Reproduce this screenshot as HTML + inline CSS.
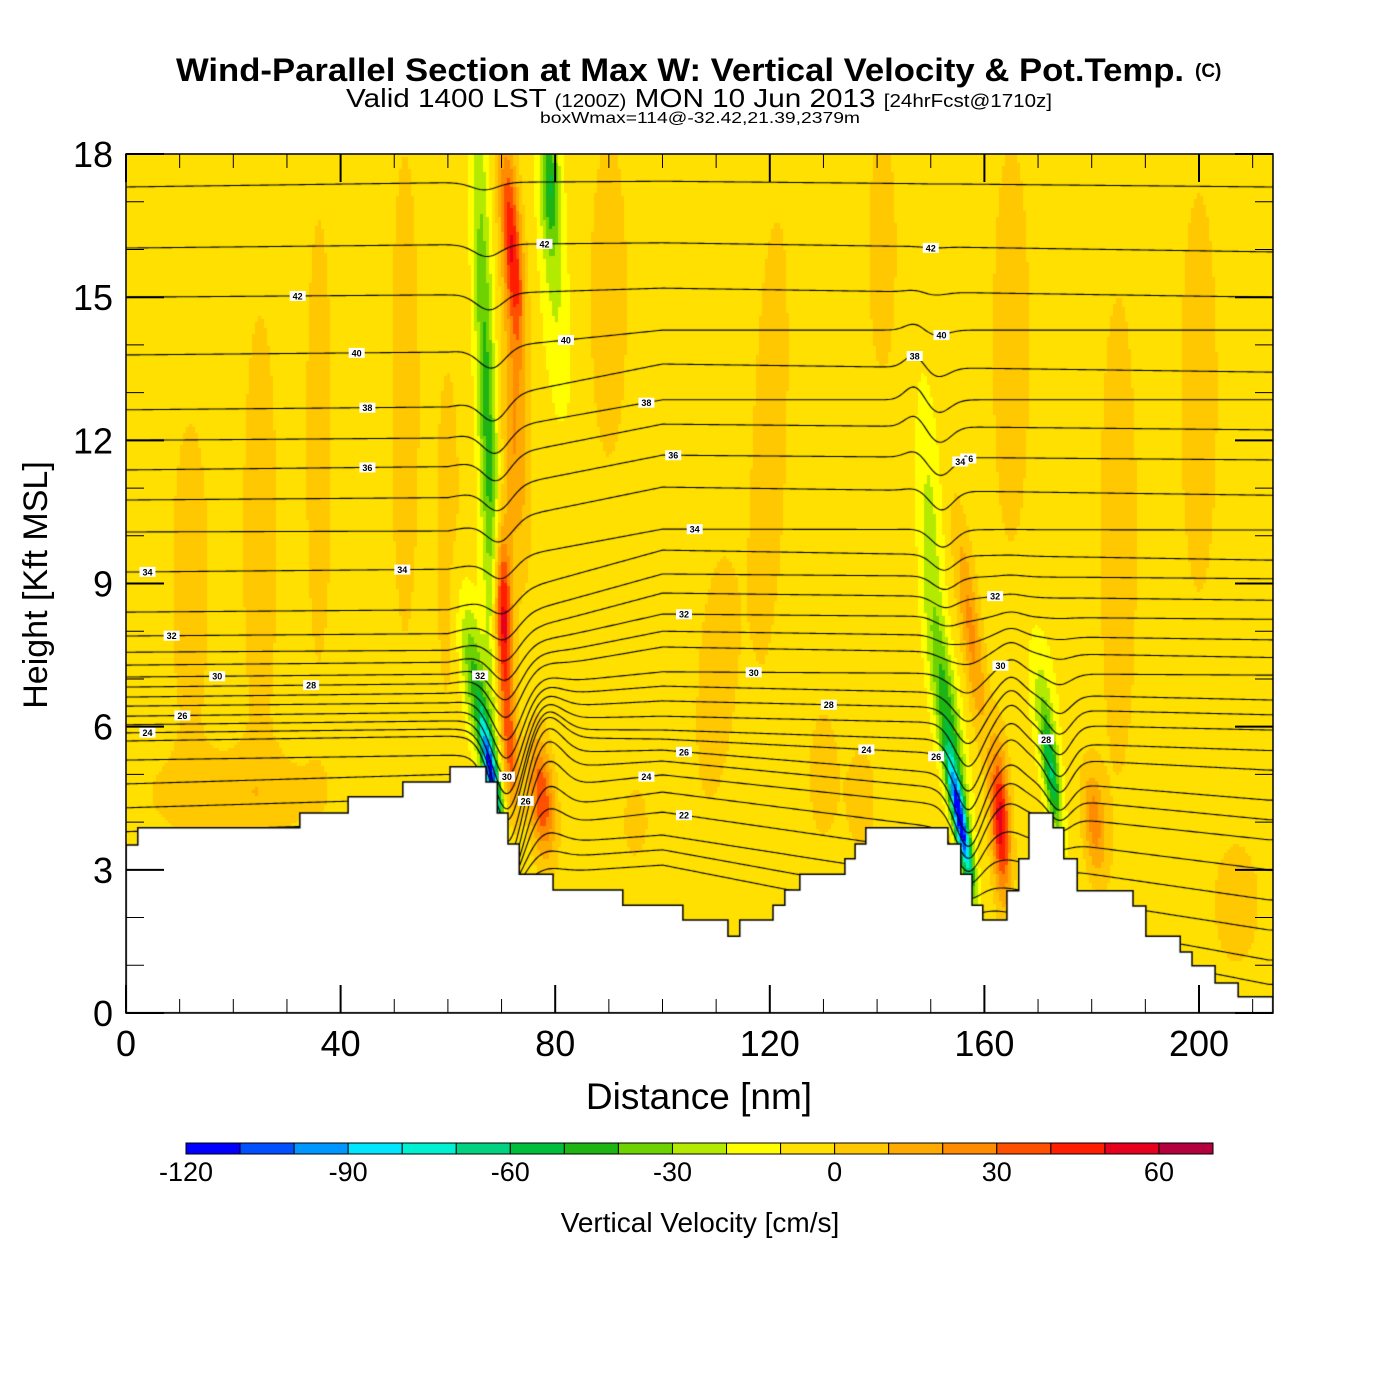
<!DOCTYPE html>
<html><head><meta charset="utf-8">
<style>
html,body{margin:0;padding:0;background:#fff;}
#wrap{position:relative;width:1400px;height:1400px;overflow:hidden;font-family:"Liberation Sans",sans-serif;}
#field{position:absolute;left:126px;top:154px;}
#ov{position:absolute;left:0;top:0;}
</style></head>
<body>
<div id="wrap">
<canvas id="field" width="1147" height="859"></canvas>
<svg id="ov" width="1400" height="1400">
  <g>
    <text x="176" y="81" font-size="32" font-weight="bold" textLength="1008" lengthAdjust="spacingAndGlyphs">Wind-Parallel Section at Max W: Vertical Velocity &amp; Pot.Temp.</text>
    <text x="1195" y="77" font-size="19" font-weight="bold">(C)</text>
    <text x="346" y="107" font-size="26" textLength="706" lengthAdjust="spacingAndGlyphs"><tspan>Valid 1400 LST </tspan><tspan font-size="18">(1200Z)</tspan><tspan> MON 10 Jun 2013 </tspan><tspan font-size="18">[24hrFcst@1710z]</tspan></text>
    <text x="700" y="123" font-size="16" text-anchor="middle" textLength="320" lengthAdjust="spacingAndGlyphs">boxWmax=114@-32.42,21.39,2379m</text>
  </g>
  <g id="labels"></g>
  <rect x="126" y="154" width="1147" height="859" fill="none" stroke="#000" stroke-width="1.5"/>
  <g id="ticks"></g>
  <g id="ticklabels" font-size="36"></g>
  <text x="699" y="1109" font-size="37" text-anchor="middle">Distance [nm]</text>
  <text transform="translate(47,585) rotate(-90)" font-size="34" text-anchor="middle">Height [Kft MSL]</text>
  <g id="cbar"></g>
  <text x="700" y="1232" font-size="28" text-anchor="middle">Vertical Velocity [cm/s]</text>
</svg>
</div>
<script>
// ---- data ----
const binColors = ["#0000ff","#0050ff","#0096ff","#00e6ff","#00f0d2","#00d282","#00be3c","#1eb414","#6ed200","#b4ea00","#ffff00","#ffe000","#ffc800","#ffaa00","#ff8c00","#ff5000","#ff1e00","#e6001e","#b4003c"];
const binMin = -120, binStep = 10;
const cbarTicks = [-120,-90,-60,-30,0,30,60];
const xTicks = [0,40,80,120,160,200];
const yTicks = [0,3,6,9,12,15,18];
// terrain (step start distance nm, height kft)
const terrainX = [0,2.2,32.4,41.4,51.6,60.4,67.1,69.2,71.2,73.3,79.6,92.6,103.8,112.2,114.4,120.6,122.8,125.6,134.0,135.9,137.9,153.2,155.6,157.7,159.7,164.2,166.4,168.3,172.8,174.8,177.3,187.7,190.1,196.5,198.7,203.0,207.3];
const terrainH = [3.52,3.88,4.19,4.53,4.84,5.16,4.84,4.19,3.54,2.91,2.58,2.26,1.95,1.61,1.95,2.26,2.58,2.91,3.23,3.54,3.88,3.54,2.91,2.26,1.95,2.56,3.23,4.19,3.88,3.23,2.56,2.24,1.61,1.28,0.99,0.63,0.34];
// vertical-velocity features (cm/s)
const plumeX    = [70.2,71.5,72,72.5,67.5,68,65,77.5,79,80,155.5,153.5,150,163,157.5,172.5,171,180.5,207, 12,36,52,90,110,141,165,200,20,137, 25,60,120,130,185,95];
const plumeH    = [8.2,5.5,16,12,12,5.0,7,4.5,17.5,15,4.0,6,10,4.0,8,5,6.5,4.0,2.3, 9,12,13,15,7,16,14,13,4.6,4.5, 10,10,12,5,10,4];
const plumeTilt = [-0.15,-0.5,-0.6,-0.4,-0.3,-1.3,-1.0,-0.6,-0.3,-0.5,-1.5,-1.2,-0.4,-0.4,-1.0,-1.0,-0.8,-0.6,0, 0,0,0,0,0.5,0,0,0,0,0, 0,0,0.3,0,0,0];
const plumeWx   = [1.7,1.5,1.8,2.2,1.8,1.2,2.4,2.2,1.8,2.6,1.2,2.2,2.2,1.7,1.8,1.4,2.6,2.0,4, 4,3,3,4,4,3,4,4,16,3, 4,3,4,3,4,3];
const plumeWh   = [1.9,1.3,2.2,2.5,7,1.2,1.7,1.2,1.5,2.5,1.3,2.2,3,1.5,2.2,1.3,1.6,1.1,1.2, 4,6,6,4,3,3,5,5,0.9,1.2, 6,5,6,1.5,6,1];
const plumeAmp  = [70,40,55,25,-40,-100,-35,45,-40,-15,-105,-40,-18,60,28,-50,-15,30,14, 10,9,10,10,10,10,10,10,12,10, 9,8,9,10,10,8];
const wBackground = -5;
// potential temperature isentropes: heights (kft) at anchor distances
const anchorX = [0,60,100,213];
const levLeft  = [2.6,2.9,3.2,3.5,3.8,4.3,4.8,5.3,5.7,5.87,6.04,6.22,6.43,6.62,6.83,7.04,7.29,7.56,7.9,8.4,9.24,10.08,10.75,11.38,12.0,12.64,13.79,15.0,16.03,17.31];
const lev60    = [2.8,3.1,3.4,3.7,4.0,4.5,5.0,5.4,5.8,5.95,6.12,6.3,6.5,6.7,6.9,7.1,7.35,7.6,7.95,8.45,9.3,10.1,10.8,11.45,12.05,12.7,13.85,15.05,16.1,17.4];
const levMid   = [3.1,3.42,3.73,4.21,4.63,4.99,5.28,5.51,5.74,5.93,6.22,6.54,6.85,7.15,7.67,8.0,8.36,8.8,9.2,9.7,10.14,11.02,11.69,12.34,12.85,13.6,14.31,15.19,16.14,17.43];
const levRight = [0.6,1.11,1.74,2.37,3.0,3.63,4.05,4.46,5.09,5.5,5.93,6.25,6.56,7.08,7.45,7.82,8.25,8.65,9.1,9.49,10.12,10.85,11.59,12.22,12.85,13.43,14.31,15.0,15.95,17.31];
// isentrope displacement features (kft)
const dispX    = [71,69,78.5,157,152,147,174,165];
const dispH    = [5.2,12,5,5,11,13,5.5,6];
const dispTilt = [0,-0.4,0,0,-0.3,0,0,0];
const dispWx   = [4,3.5,4,3.5,3,2.5,3,3];
const dispWh   = [2.0,5,1.5,2,3,1.5,1.5,2];
const dispAmp  = [-1.8,-0.5,0.6,-1.2,-0.4,0.3,-0.7,0.4];
// contour labels (distance nm, approx height kft, text)
const labX = [4,8.5,17,34.5,10.5,4,32,43,45,45,51.5,66,71,74.5,78,82,97,102,106,104,117,131,104,97,104,138,151,150,152,147,157,155.5,162,163,171.5];
const labH = [9.24,7.9,7.15,6.77,6.2,5.9,15.3,13.8,12.6,11.3,9.5,7.0,5.1,4.5,16.3,14.0,12.9,11.7,10.1,8.5,7.2,6.5,5.5,5.1,4.2,5.4,5.4,16.5,14.6,13.6,11.8,11.2,8.6,7.4,5.9];
const labT = ["34","32","30","28","26","24","42","40","38","36","34","32","30","26","42","40","38","36","34","32","30","28","26","24","22","24","26","42","40","38","36","34","32","30","28"];

// ---- axes ----
const L=126,T=154,R=1273,B=1013;
const XMAX=(R-L)/5.365;
function px(nm){return L+nm*5.365;}
function py(h){return B-h*47.72;}
function wAt(x,h){let v=wBackground;for(let i=0;i<plumeX.length;i++){const xc=plumeX[i]+plumeTilt[i]*(h-plumeH[i]);const dx=(x-xc)/plumeWx[i],dh=(h-plumeH[i])/plumeWh[i];const e=dx*dx+dh*dh;if(e<12)v+=plumeAmp[i]*Math.exp(-e);}return v;}
function interpBase(k,x){const ys=[levLeft[k],lev60[k],levMid[k],levRight[k]];for(let i=0;i<anchorX.length-1;i++){if(x<=anchorX[i+1]){const t=(x-anchorX[i])/(anchorX[i+1]-anchorX[i]);return ys[i]+(ys[i+1]-ys[i])*t;}}return ys[3];}
function lineH(k,x){let h=interpBase(k,x);const h0=h;for(let i=0;i<dispX.length;i++){const xc=dispX[i]+dispTilt[i]*(h0-dispH[i]);const dx=(x-xc)/dispWx[i],dh=(h0-dispH[i])/dispWh[i];h+=dispAmp[i]*Math.exp(-dx*dx-dh*dh);}return h;}

const cv=document.getElementById('field');const ctx=cv.getContext('2d');
const cs=3;
for(let yy=0;yy<859;yy+=cs){for(let xx=0;xx<1147;xx+=cs){const x=(xx+cs/2)/5.365;const h=(859-(yy+cs/2))/47.72;
  let v=wAt(x,h);let b=Math.floor((v-binMin)/binStep);b=Math.max(0,Math.min(binColors.length-1,b));
  ctx.fillStyle=binColors[b];ctx.fillRect(xx,yy,cs,cs);}}
// isentropes
ctx.strokeStyle='#000';ctx.lineWidth=1.1;
for(let k=0;k<levMid.length;k++){ctx.beginPath();for(let x=0;x<=XMAX+0.5;x+=0.4){const X=px(x)-L,Y=py(lineH(k,x))-T;if(x===0)ctx.moveTo(X,Y);else ctx.lineTo(X,Y);}ctx.stroke();}
// terrain
ctx.beginPath();ctx.moveTo(0,859);
for(let i=0;i<terrainX.length;i++){const x0=px(terrainX[i])-L,x1=(i+1<terrainX.length?px(terrainX[i+1]):R)-L;const Y=py(terrainH[i])-T;ctx.lineTo(x0,Y);ctx.lineTo(x1,Y);}
ctx.lineTo(1147,859);ctx.closePath();ctx.fillStyle='#fff';ctx.fill();ctx.lineWidth=1.5;ctx.stroke();

const NS='http://www.w3.org/2000/svg';
function mk(tag,attrs,parent){const e=document.createElementNS(NS,tag);for(const k in attrs)e.setAttribute(k,attrs[k]);parent.appendChild(e);return e;}
// contour labels
const lg=document.getElementById('labels');
for(let i=0;i<labX.length;i++){let best=0,bd=1e9;for(let k=0;k<levMid.length;k++){const d=Math.abs(lineH(k,labX[i])-labH[i]);if(d<bd){bd=d;best=k;}}
  const X=px(labX[i]),Y=py(lineH(best,labX[i]));
  const r=mk('rect',{x:X-8,y:Y-5,width:16,height:10,fill:'#fff'},lg);
  
  
  const t=mk('text',{x:X,y:Y+3.5,'font-size':9,'font-weight':'bold','text-anchor':'middle'},lg);t.textContent=labT[i];
  
  }
// ticks
const tg=document.getElementById('ticks'),tl=document.getElementById('ticklabels');
for(let v=0;v<=210;v+=10){const X=px(v);const maj=(v%40===0);const len=maj?28:14;
  const a=mk('line',{x1:X,x2:X,y1:B,y2:B-len,stroke:'#000','stroke-width':maj?2:1},tg);
  
  
  const b=mk('line',{x1:X,x2:X,y1:T,y2:T+len,stroke:'#000','stroke-width':maj?2:1},tg);
  
  }
for(let v=0;v<=18;v+=1){const Y=py(v);const maj=(v%3===0);const len=maj?38:18;
  const a=mk('line',{x1:L,x2:L+len,y1:Y,y2:Y,stroke:'#000','stroke-width':maj?2:1},tg);
  
  
  const b=mk('line',{x1:R,x2:R-len,y1:Y,y2:Y,stroke:'#000','stroke-width':maj?2:1},tg);
  
  }
for(const v of xTicks){const t=mk('text',{x:px(v),y:1056,'text-anchor':'middle'},tl);t.textContent=v;
  
  }
for(const v of yTicks){const t=mk('text',{x:113,y:py(v)+13,'text-anchor':'end'},tl);t.textContent=v;
  
  }
// colorbar
const cb=document.getElementById('cbar');const cbL=186,cbR=1213,cbW=(cbR-cbL)/binColors.length;
for(let i=0;i<binColors.length;i++){const r=mk('rect',{x:cbL+i*cbW,y:1143,width:cbW,height:11,fill:binColors[i],stroke:'#000','stroke-width':1},cb);
  
  }
for(const v of cbarTicks){const X=cbL+(v-binMin)/binStep*cbW;const t=mk('text',{x:X,y:1181,'font-size':27,'text-anchor':'middle'},cb);t.textContent=v;
  
  }
</script>
</body></html>
